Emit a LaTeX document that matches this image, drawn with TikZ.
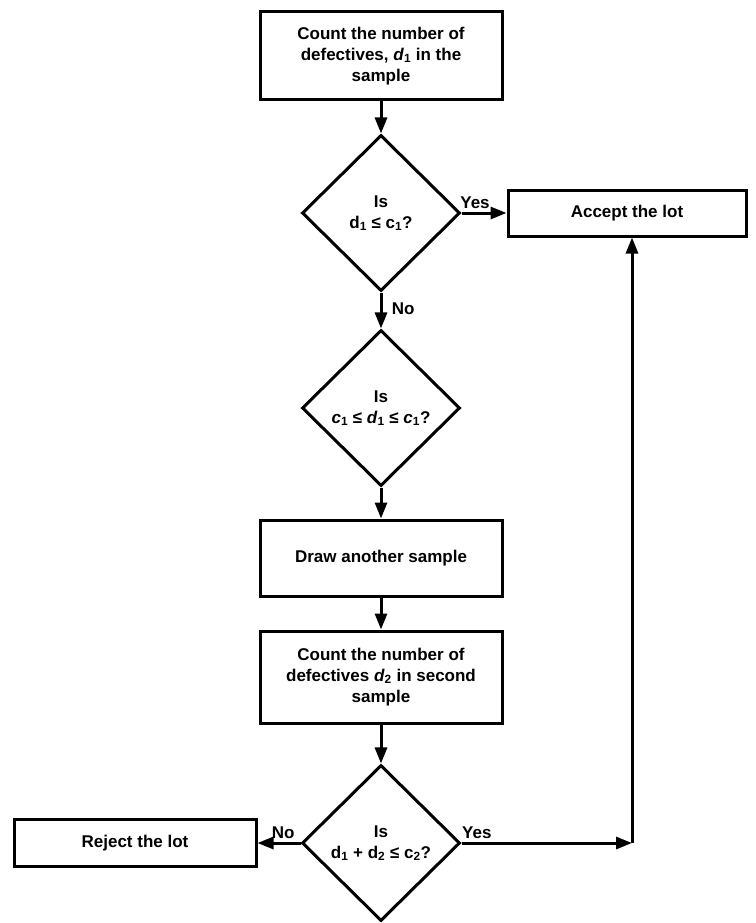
\documentclass[tikz,border=0pt]{standalone}
\usepackage{fontspec}
\setmainfont{Liberation Sans}
\usetikzlibrary{shapes.geometric,arrows.meta}
\tikzset{box/.style={draw,line width=3pt,align=center,inner sep=2pt},
  decision/.style={diamond,draw,line width=3pt,align=center,inner sep=0pt,minimum width=158pt,minimum height=156pt}}
\begin{document}
\begin{tikzpicture}[x=1pt,y=-1pt,>={Triangle[length=16pt,width=12pt]},line width=3pt,font=\fontsize{17}{21}\selectfont\bfseries]
\useasboundingbox (0,0) rectangle (755,923);
\node[box,minimum width=242pt,minimum height=88pt] (count1) at (381,56) {Count the number of\\ defectives, \textit{d}\textsubscript{1} in the\\ sample};
\node[decision] (test1) at (381,213) {Is\\ d\textsubscript{1} ≤ c\textsubscript{1}?};
\node[box,minimum width=238pt,minimum height=46pt] (accept) at (627,213) {Accept the lot};
\node[decision] (test2) at (381,408) {Is\\ \textit{c}\textsubscript{1} ≤ \textit{d}\textsubscript{1} ≤ \textit{c}\textsubscript{1}?};
\node[box,minimum width=242pt,minimum height=76pt] (draw2) at (381,558) {Draw another sample};
\node[box,minimum width=242pt,minimum height=92pt] (count2) at (381,677) {Count the number of\\ defectives \textit{d}\textsubscript{2} in second\\ sample};
\node[decision] (test3) at (381,843) {Is\\ d\textsubscript{1} + d\textsubscript{2} ≤ c\textsubscript{2}?};
\node[box,minimum width=242pt,minimum height=47pt] (reject) at (135,843) {Reject the lot};
\coordinate (corner) at (632,843);
\draw[->] (count1) -- (test1);
\draw[->] (test1) -- node[above,pos=0.3]{Yes} (accept);
\draw[->] (test1) -- node[right,pos=0.45,xshift=6pt]{No} (test2);
\draw[->] (test2) -- (draw2);
\draw[->] (draw2) -- (count2);
\draw[->] (count2) -- (test3);
\draw[->] (test3) -- node[above,pos=0.4]{No} (reject);
\draw[->] (test3) -- node[above,pos=0.09]{Yes} (corner);
\draw[->] (corner) -- (accept.south -| corner);
\end{tikzpicture}
\end{document}
